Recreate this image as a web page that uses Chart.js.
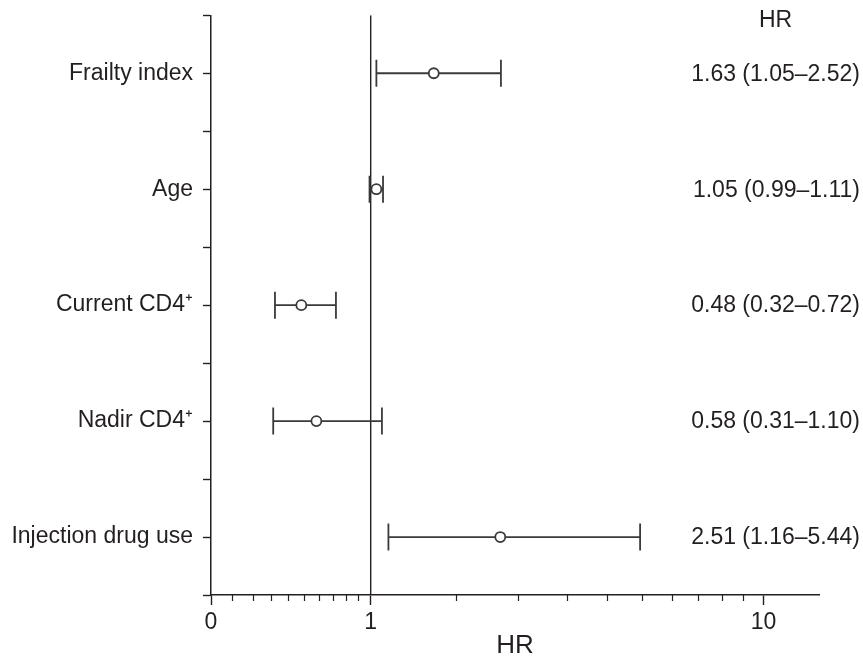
<!DOCTYPE html>
<html>
<head>
<meta charset="utf-8">
<script src="https://cdn.jsdelivr.net/npm/chart.js@4.4.1/dist/chart.umd.min.js"></script>
<style>
  html, body { margin: 0; padding: 0; background: #fff; }
  #wrap { width: 863px; height: 659px; }
</style>
</head>
<body>
<div id="wrap"><canvas id="forestChart" width="863" height="659"></canvas></div>
<script>
// Hazard ratios with 95% CI
const categories = ["Frailty index", "Age", "Current CD4\u207A", "Nadir CD4\u207A", "Injection drug use"];
const hr = [1.63, 1.05, 0.48, 0.58, 2.51];
const ciLow = [1.05, 0.99, 0.32, 0.31, 1.16];
const ciHigh = [2.52, 1.11, 0.72, 1.10, 5.44];

// x axis ticks (labelled + small ones)
const xMajorTicks = [0, 1, 10];
const xMinorTicks = [0.1, 0.2, 0.3, 0.4, 0.5, 0.6, 0.7, 0.8, 0.9, 1.9, 2.8, 3.7, 4.6, 5.5, 6.4, 7.3, 8.2, 9.1];

const ink = "#231f20";
const barColor = "#3a3a3a";
const fontFamily = '"Liberation Sans", Arial, Helvetica, sans-serif';

// rows sit on odd y positions, top to bottom
const rowY = categories.map((c, i) => 9 - 2 * i);

// axis on log10(HR + 1) so that 0 can be shown
class HrScale extends Chart.LinearScale {
  configure() {
    super.configure();
    this._lo = Math.log10(this.min + 1);
    this._hi = Math.log10(this.max + 1);
  }
  getPixelForValue(v) {
    return this.getPixelForDecimal((Math.log10(v + 1) - this._lo) / (this._hi - this._lo));
  }
  getValueForPixel(p) {
    return Math.pow(10, this._lo + this.getDecimalForPixel(p) * (this._hi - this._lo)) - 1;
  }
}
HrScale.id = "hrlog";
HrScale.defaults = {};
Chart.register(HrScale);

const fmt = (v) => v.toFixed(2);

const hrText = {
  id: "hrText",
  afterDraw(chart) {
    const ctx = chart.ctx;
    const y = chart.scales.y;
    const right = 860;
    ctx.save();
    ctx.font = "23px " + fontFamily;
    ctx.fillStyle = ink;
    ctx.textBaseline = "middle";
    const labels = categories.map((c, i) => `${fmt(hr[i])} (${fmt(ciLow[i])}\u2013${fmt(ciHigh[i])})`);
    let w = 0;
    labels.forEach((t) => { w = Math.max(w, ctx.measureText(t).width); });
    ctx.textAlign = "right";
    labels.forEach((t, i) => ctx.fillText(t, right, y.getPixelForValue(rowY[i]) + 1));
    ctx.textAlign = "center";
    ctx.fillText("HR", right - w / 2, 21);
    ctx.restore();
  },
};

const whiskers = categories.map((c, i) => ({
  type: "line",
  data: [{ x: ciLow[i], y: rowY[i] }, { x: ciHigh[i], y: rowY[i] }],
  borderColor: barColor,
  borderWidth: 1.8,
  pointStyle: "line",
  rotation: 90,
  pointRadius: 13.5,
  pointBorderWidth: 1.8,
  pointBorderColor: barColor,
  xAxisID: "x",
}));

new Chart(document.getElementById("forestChart").getContext("2d"), {
  type: "line",
  data: {
    datasets: [
      {
        label: "HR",
        data: hr.map((v, i) => ({ x: v, y: rowY[i] })),
        showLine: false,
        pointStyle: "circle",
        pointRadius: 5,
        pointBackgroundColor: "#fff",
        pointBorderColor: barColor,
        pointBorderWidth: 1.8,
      },
      ...whiskers,
      {
        label: "ref",
        data: [{ x: 1, y: 0 }, { x: 1, y: 10 }],
        borderColor: ink,
        borderWidth: 1.4,
        pointRadius: 0,
      },
    ],
  },
  options: {
    responsive: false,
    animation: false,
    events: [],
    layout: { padding: { top: 11, right: 44, left: 0, bottom: 0 } },
    plugins: {
      legend: { display: false },
      tooltip: { enabled: false },
    },
    scales: {
      x: {
        type: "hrlog",
        position: "bottom",
        weight: 1,
        min: 0,
        max: 13,
        afterBuildTicks: (axis) => { axis.ticks = xMajorTicks.map((v) => ({ value: v })); },
        afterFit: (axis) => {
          axis.height = 64;
          axis.paddingLeft = 0;
          axis.paddingRight = 0;
        },
        ticks: {
          color: ink,
          font: { size: 23, family: fontFamily },
          padding: 4,
          maxRotation: 0,
          autoSkip: false,
          callback: (v) => String(v),
        },
        grid: { drawOnChartArea: false, tickLength: 10, tickColor: ink, tickWidth: 1.4 },
        border: { color: ink, width: 1.5 },
        title: {
          display: true,
          text: "HR",
          color: ink,
          font: { size: 26, family: fontFamily, lineHeight: 1.05 },
          padding: { top: 0, bottom: 0 },
        },
      },
      xMinor: {
        type: "hrlog",
        position: "bottom",
        weight: 0,
        min: 0,
        max: 13,
        afterBuildTicks: (axis) => { axis.ticks = xMinorTicks.map((v) => ({ value: v })); },
        afterFit: (axis) => {
          axis.height = 0;
          axis.paddingLeft = 0;
          axis.paddingRight = 0;
        },
        ticks: { display: false },
        grid: { drawOnChartArea: false, tickLength: 6, tickColor: ink, tickWidth: 1.2 },
        border: { display: false },
      },
      y: {
        type: "linear",
        min: 0,
        max: 10,
        afterFit: (axis) => {
          axis.width = 211;
          axis.paddingTop = 0;
          axis.paddingBottom = 0;
        },
        ticks: {
          stepSize: 1,
          autoSkip: false,
          padding: 10,
          color: ink,
          font: { size: 23, family: fontFamily, lineHeight: 0.9 },
          callback: (v) => {
            const i = rowY.indexOf(v);
            return i >= 0 ? categories[i] : "";
          },
        },
        grid: { drawOnChartArea: false, tickLength: 8, tickColor: ink, tickWidth: 1.4 },
        border: { color: ink, width: 1.5 },
      },
    },
  },
  plugins: [hrText],
});
</script>
</body>
</html>
